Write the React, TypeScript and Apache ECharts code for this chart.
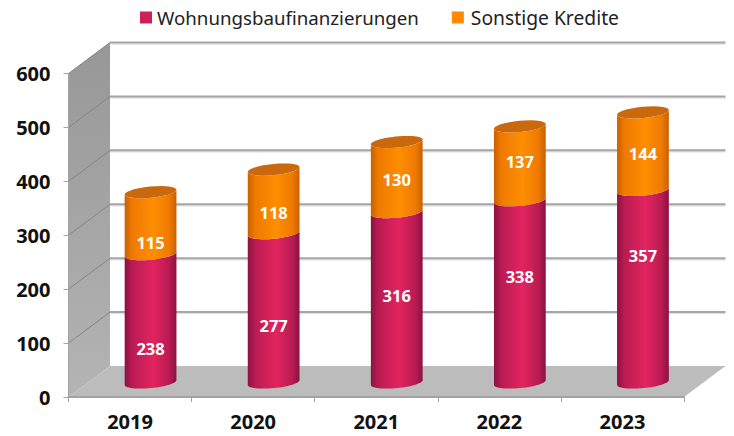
import React, { useEffect, useRef } from "react";
import * as echarts from "echarts";

const years = ["2019", "2020", "2021", "2022", "2023"];
const wohnung = [238, 277, 316, 338, 357];
const sonstige = [115, 118, 130, 137, 144];
const ticks = [0, 100, 200, 300, 400, 500, 600];
const wohnungLabelShift = [30, 18, -2, -15, -31];
const sonstigeLabelShift = [19, 11, 2, -2, 2];

const DX = 41.5;
const DY = 31;
const BAR_DX = 20.5;
const BAR_DY = 14.5;
const RX = 26;
const RY = 5.6;
const TILT = (-5.5 * Math.PI) / 180;
const FONT = "'Noto Sans', sans-serif";

function arc(cx: number, cy: number, from: number, to: number) {
  const pts: number[][] = [];
  const n = 28;
  for (let i = 0; i <= n; i++) {
    const t = from + ((to - from) * i) / n;
    const ex = RX * Math.cos(t);
    const ey = RY * Math.sin(t);
    pts.push([
      cx + ex * Math.cos(TILT) - ey * Math.sin(TILT),
      cy + ex * Math.sin(TILT) + ey * Math.cos(TILT),
    ]);
  }
  return pts;
}

function shade(edge: string, mid: string, bright: string) {
  return new echarts.graphic.LinearGradient(0, 0, 1, 0, [
    { offset: 0, color: edge },
    { offset: 0.14, color: mid },
    { offset: 0.55, color: bright },
    { offset: 0.86, color: mid },
    { offset: 1, color: edge },
  ]);
}

function wallItem(params: any, api: any) {
  const cs = params.coordSys;
  const tick = ticks[params.dataIndex];
  const y = api.coord([0, tick])[1];
  const children: any[] = [];
  const left = cs.x;
  const right = cs.x + cs.width;
  const bottom = cs.y + cs.height;
  if (params.dataIndex === 0) {
    children.push({
      type: "polygon",
      shape: {
        points: [
          [left, cs.y],
          [left + DX, cs.y - DY],
          [left + DX, bottom - DY],
          [left, bottom],
        ],
      },
      style: {
        fill: new echarts.graphic.LinearGradient(0, 0, 0, 1, [
          { offset: 0, color: "#979797" },
          { offset: 1, color: "#b4b4b4" },
        ]),
      },
    });
    children.push({
      type: "polygon",
      shape: {
        points: [
          [left, bottom],
          [left + DX, bottom - DY],
          [right + DX, bottom - DY],
          [right, bottom],
        ],
      },
      style: { fill: "#bcbcbc" },
    });
  }
  if (tick !== 0) {
    children.push({
      type: "line",
      shape: { x1: left, y1: y, x2: left + DX, y2: y - DY },
      style: { stroke: "#858585", lineWidth: 1 },
    });
    children.push({
      type: "line",
      shape: { x1: left + DX, y1: y - DY + 1.5, x2: right + DX, y2: y - DY + 1.5 },
      style: { stroke: "#e2e2e2", lineWidth: 1.5 },
    });
    children.push({
      type: "line",
      shape: { x1: left + DX, y1: y - DY, x2: right + DX, y2: y - DY },
      style: { stroke: "#a6a6a6", lineWidth: 2 },
    });
  }
  return { type: "group", children };
}

function barItem(
  base: number[],
  values: number[],
  shifts: number[],
  fill: any,
  capFill: string | null,
) {
  return (params: any, api: any) => {
    const i = params.dataIndex;
    const v0 = base[i];
    const v1 = v0 + values[i];
    const p0 = api.coord([i, v0]);
    const p1 = api.coord([i, v1]);
    const cx = p0[0] + BAR_DX;
    const y0 = p0[1] - BAR_DY;
    const y1 = p1[1] - BAR_DY;
    const children: any[] = [
      {
        type: "polygon",
        shape: {
          points: [
            ...arc(cx, y1, Math.PI, 0),
            ...arc(cx, y0, 0, Math.PI),
          ],
        },
        style: { fill },
      },
    ];
    if (capFill) {
      children.push({
        type: "polygon",
        shape: { points: arc(cx, y1, 0, Math.PI * 2) },
        style: { fill: capFill },
      });
    }
    children.push({
      type: "text",
      style: {
        text: String(values[i]),
        x: cx,
        y: (y0 + y1) / 2 + shifts[i],
        fill: "#ffffff",
        font: `700 16.5px ${FONT}`,
        align: "center",
        verticalAlign: "middle",
      },
    });
    return { type: "group", children };
  };
}

export default function App() {
  const ref = useRef<HTMLDivElement>(null);
  useEffect(() => {
    if (!ref.current) return;
    const chart = echarts.init(ref.current, undefined, { renderer: "svg" });
    const zeros = years.map(() => 0);
    chart.setOption({
      animation: false,
      backgroundColor: "#ffffff",
      grid: { left: 68.5, top: 73.5, width: 615.5, height: 323.5 },
      legend: {
        data: [
          { name: "Wohnungsbaufinanzierungen" },
          { name: "Sonstige Kredite", textStyle: { fontSize: 19.3, padding: [0, 0, 0, 2] } },
        ],
        left: 135,
        top: 3,
        icon: "rect",
        itemWidth: 12,
        itemHeight: 12,
        itemGap: 33,
        selectedMode: false,
        textStyle: { fontFamily: FONT, fontSize: 18.7, color: "#222222" },
      },
      xAxis: {
        type: "category",
        data: years,
        z: 3,
        axisLine: { lineStyle: { color: "#a3a3a3", width: 2 } },
        axisTick: { show: true, length: 5, lineStyle: { color: "#a3a3a3" } },
        axisLabel: {
          margin: 14,
          fontFamily: FONT,
          fontWeight: 700,
          fontSize: 20,
          color: "#111111",
        },
      },
      yAxis: {
        type: "value",
        min: 0,
        max: 600,
        interval: 100,
        z: 3,
        splitLine: { show: false },
        axisLine: { show: true, lineStyle: { color: "#a3a3a3", width: 1 } },
        axisTick: { show: true, length: 5, lineStyle: { color: "#a3a3a3" } },
        axisLabel: {
          margin: 18,
          fontFamily: FONT,
          fontWeight: 700,
          fontSize: 20,
          color: "#111111",
        },
      },
      series: [
        {
          type: "custom",
          name: "walls",
          z: 1,
          silent: true,
          encode: { x: 0, y: 1 },
          data: ticks.map((t) => [0, t]),
          renderItem: wallItem,
        },
        {
          type: "custom",
          name: "Wohnungsbaufinanzierungen",
          z: 4,
          encode: { x: 0, y: 1 },
          itemStyle: { color: "#cc2057" },
          data: years.map((y, i) => [i, wohnung[i]]),
          renderItem: barItem(
            zeros,
            wohnung,
            wohnungLabelShift,
            shade("#8a1240", "#b91b52", "#e2245f"),
            null,
          ),
        },
        {
          type: "custom",
          name: "Sonstige Kredite",
          z: 5,
          encode: { x: 0, y: 1 },
          itemStyle: { color: "#ff8a00" },
          data: years.map((y, i) => [i, wohnung[i] + sonstige[i]]),
          renderItem: barItem(
            wohnung,
            sonstige,
            sonstigeLabelShift,
            shade("#c96000", "#ee7a00", "#ff8e00"),
            "#c9680c",
          ),
        },
      ],
    });
    return () => chart.dispose();
  }, []);
  return (
    <div
      ref={ref}
      style={{ position: "fixed", left: 0, top: 0, width: 734, height: 436 }}
    />
  );
}
